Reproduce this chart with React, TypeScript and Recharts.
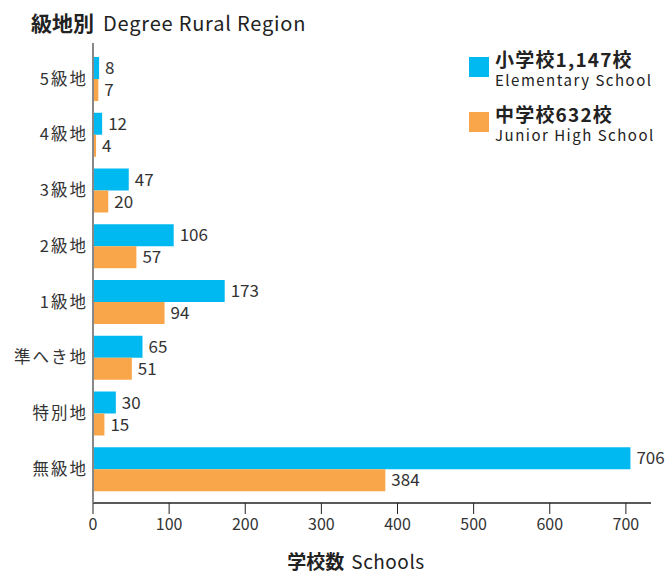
import React from 'react';
import { BarChart, Bar, XAxis, YAxis, LabelList, Label } from 'recharts';

const categories = ['5級地', '4級地', '3級地', '2級地', '1級地', '準へき地', '特別地', '無級地'];
const elementary = [8, 12, 47, 106, 173, 65, 30, 706];
const juniorHigh = [7, 4, 20, 57, 94, 51, 15, 384];
const xTicks = [0, 100, 200, 300, 400, 500, 600, 700];

const BLUE = '#00B9F1';
const ORANGE = '#F9A64A';
const FONT = '"Noto Sans CJK JP", "Noto Sans", sans-serif';

const data = categories.map((c, i) => ({ name: c, elementary: elementary[i], junior: juniorHigh[i] }));

const XLabel = (props: any) => {
  const vb = props.viewBox || {};
  const cx = vb.x + vb.width / 2 - 16;
  return (
    <text x={cx} y={569} textAnchor="middle" fill="#222" fontFamily={FONT} fontSize={19}>
      <tspan fontWeight={700}>学校数</tspan>
      <tspan dx={7} letterSpacing={0.5}>Schools</tspan>
    </text>
  );
};

export default function App() {
  return (
    <div style={{ position: 'absolute', left: 0, top: 0, width: 671, height: 574, background: '#fff', fontFamily: FONT }}>
      <div style={{ position: 'absolute', left: 31, top: 7, whiteSpace: 'nowrap', color: '#222', lineHeight: '30px' }}>
        <span style={{ fontSize: 21, fontWeight: 700 }}>級地別</span>
        <span style={{ fontSize: 20, marginLeft: 9, letterSpacing: 0.8 }}>Degree Rural Region</span>
      </div>
      <div style={{ position: 'absolute', left: 469, top: 46, color: '#222', whiteSpace: 'nowrap' }}>
        {[
          { color: BLUE, main: '小学校1,147校', sub: 'Elementary School' },
          { color: ORANGE, main: '中学校632校', sub: 'Junior High School' },
        ].map((it, i) => (
          <div key={i} style={{ position: 'absolute', left: 0, top: i * 55, width: 200, height: 50 }}>
            <div style={{ position: 'absolute', left: 0, top: 11, width: 20, height: 20, background: it.color }} />
            <div style={{ position: 'absolute', left: 26, top: 2, fontSize: 19, fontWeight: 700, lineHeight: '22px', letterSpacing: 1.2 }}>{it.main}</div>
            <div style={{ position: 'absolute', left: 26, top: 25, fontSize: 15, lineHeight: '18px', letterSpacing: 1.5 }}>{it.sub}</div>
          </div>
        ))}
      </div>
      <BarChart
        width={671}
        height={574}
        data={data}
        layout="vertical"
        margin={{ top: 43, right: 20, bottom: 30, left: 0 }}
        barGap={0}
        barSize={22}
      >
        <XAxis
          type="number"
          domain={[0, 733]}
          ticks={xTicks}
          height={41}
          axisLine={{ stroke: '#222', strokeWidth: 1.5 }}
          tickLine={{ stroke: '#222' }}
          tickSize={11}
          tickMargin={5}
          tick={{ fill: '#333', fontSize: 16, fontFamily: FONT }}
        >
          <Label content={<XLabel />} />
        </XAxis>
        <YAxis
          type="category"
          dataKey="name"
          width={93}
          padding={{ top: 8, bottom: 6 }}
          axisLine={{ stroke: '#888', strokeWidth: 2 }}
          tickLine={false}
          tickSize={0}
          tickMargin={5}
          tick={{ fill: '#333', fontSize: 16.5, fontFamily: FONT, letterSpacing: 2 }}
        />
        <Bar dataKey="elementary" fill={BLUE} isAnimationActive={false}>
          <LabelList dataKey="elementary" position="right" offset={6} fill="#333" fontSize={17} fontFamily={FONT} />
        </Bar>
        <Bar dataKey="junior" fill={ORANGE} isAnimationActive={false}>
          <LabelList dataKey="junior" position="right" offset={6} fill="#333" fontSize={17} fontFamily={FONT} />
        </Bar>
      </BarChart>
    </div>
  );
}
